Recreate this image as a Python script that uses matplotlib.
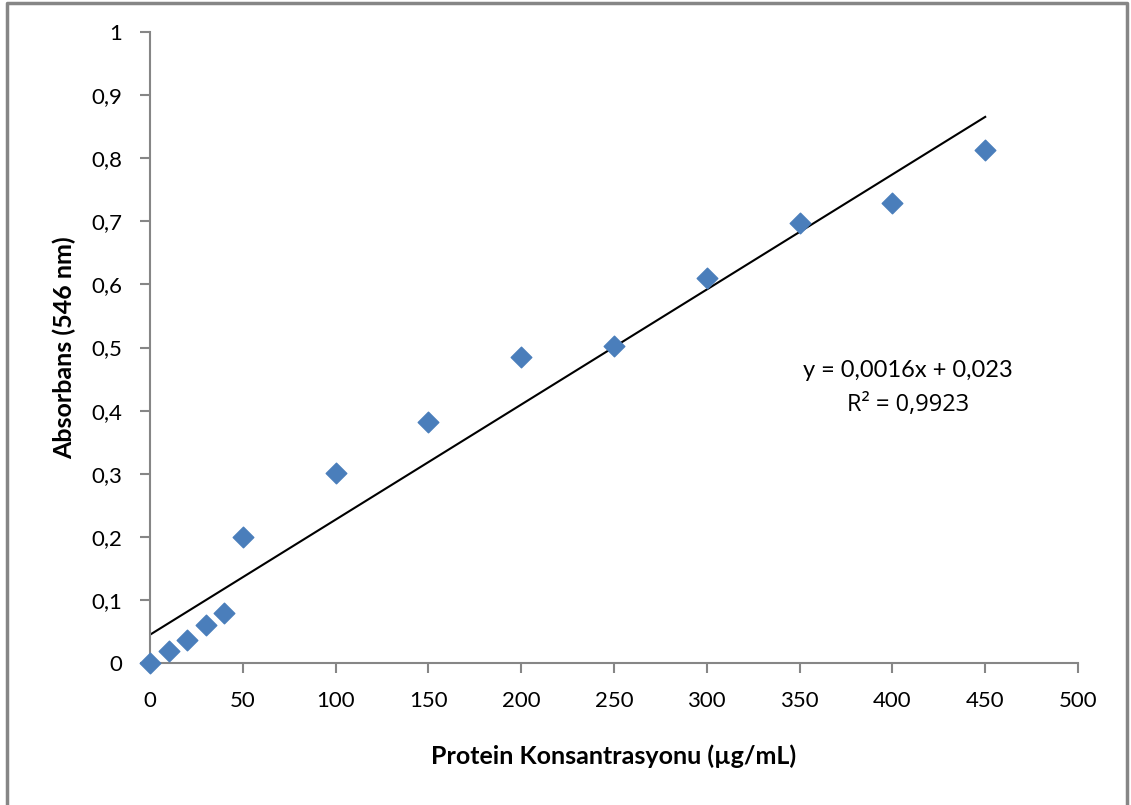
import matplotlib.pyplot as plt
import numpy as np
from matplotlib.lines import Line2D

plt.rcParams['font.family'] = ['Lato', 'DejaVu Sans']

# veriler
konsantrasyon = [0, 10, 20, 30, 40, 50, 100, 150, 200, 250, 300, 350, 400, 450]
absorbans = [0.0, 0.019, 0.036, 0.060, 0.079, 0.200, 0.301, 0.382, 0.485, 0.502,
             0.610, 0.697, 0.729, 0.813]
x_ticks = [0, 50, 100, 150, 200, 250, 300, 350, 400, 450, 500]
y_ticks = [0, 0.1, 0.2, 0.3, 0.4, 0.5, 0.6, 0.7, 0.8, 0.9, 1]
denklem = "y = 0,0016x + 0,023"
r_kare = "R² = 0,9923"

fig = plt.figure(figsize=(11.31, 8.05), dpi=100)
ax = fig.add_axes([150 / 1131, 1 - 663 / 805, 928 / 1131, 631 / 805])

gri = "#868686"

ax.scatter(konsantrasyon, absorbans, marker="D", s=110, color="#4a7ebb",
           edgecolors="#4a7ebb", zorder=3, clip_on=False)

# trend çizgisi
a, b = np.polyfit(konsantrasyon, absorbans, 1)
xs = np.array([min(konsantrasyon), max(konsantrasyon)])
ax.plot(xs, a * xs + b, color="black", lw=1.5, zorder=2)

ax.set_xlim(0, 500)
ax.set_ylim(0, 1)
ax.set_xticks(x_ticks)
ax.set_yticks(y_ticks)
ax.set_xticklabels([str(t) for t in x_ticks])
ax.set_yticklabels([("%g" % t).replace(".", ",") for t in y_ticks])

for s in ["top", "right"]:
    ax.spines[s].set_visible(False)
for s in ["left", "bottom"]:
    ax.spines[s].set_color(gri)
    ax.spines[s].set_linewidth(1.5)

ax.tick_params(axis="both", direction="out", length=7, width=1.5, color=gri,
               labelsize=16, labelcolor="black")
ax.tick_params(axis="y", pad=13)
ax.tick_params(axis="x", pad=13)

ax.set_xlabel("Protein Konsantrasyonu (µg/mL)", fontsize=18, fontweight="bold",
              labelpad=24)
ax.set_ylabel("Absorbans (546 nm)", fontsize=18, fontweight="bold", labelpad=11)

fig.text(908 / 1131, 1 - 370 / 805, denklem, fontsize=17, ha="center", va="center")
fig.text(908 / 1131, 1 - 405 / 805, r_kare, fontsize=17, ha="center", va="center",
         family=["Open Sans", "DejaVu Sans"])

# grafik çerçevesi
cx = [6.5 / 1131, 6.5 / 1131, 1126.5 / 1131, 1126.5 / 1131]
cy = [-0.01, 1 - 3 / 805, 1 - 3 / 805, -0.01]
fig.add_artist(Line2D(cx, cy, color=gri, lw=2.5, transform=fig.transFigure))

fig.savefig("out.png", dpi=100)
